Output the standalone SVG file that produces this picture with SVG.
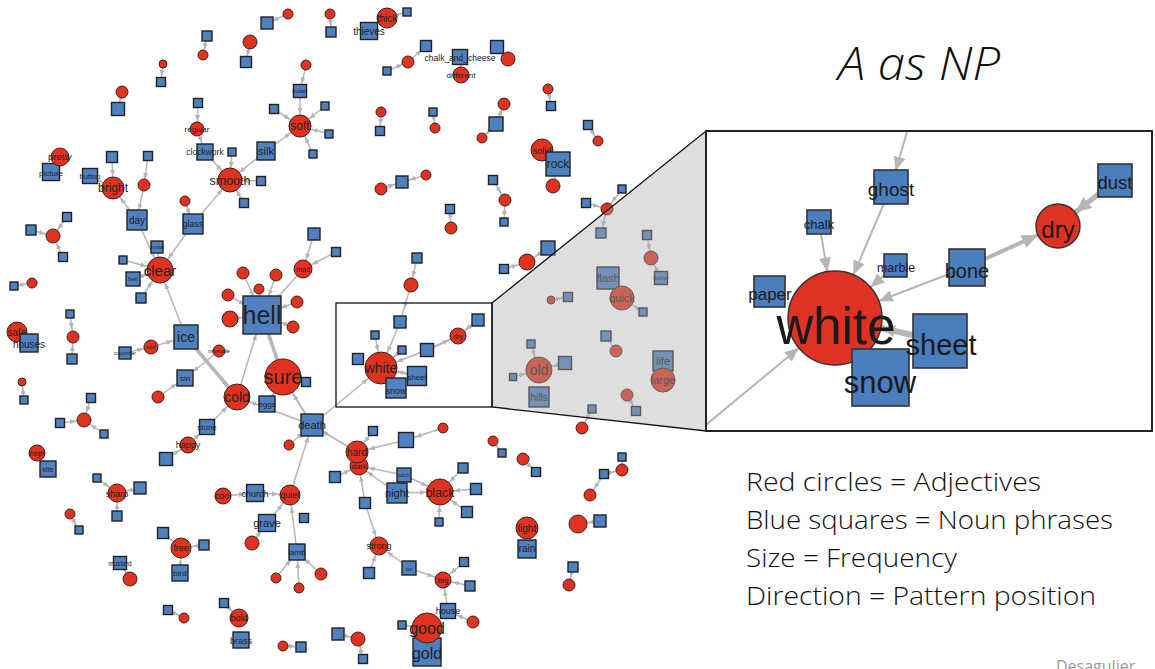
<svg xmlns="http://www.w3.org/2000/svg" width="1155" height="669" viewBox="0 0 1155 669">
<style>
.e line{stroke:#b7b7b7;stroke-width:1.5;fill:none}
.a{fill:#e1321f;stroke:#3b2420;stroke-width:1}
.n{fill:#4f80bf;stroke:#222;stroke-width:1.4}
.t{font-family:"Liberation Sans",Arial,sans-serif;fill:#222;text-anchor:middle}
.ia{fill:#df3222;stroke:#333;stroke-width:1.4}
.in{fill:#4a7ebc;stroke:#333;stroke-width:1.6}
.it{font-family:"Liberation Sans",Arial,sans-serif;fill:#1a1a1a;text-anchor:middle}
.ie line{stroke:#b5b5b5;fill:none}
.lg{font-family:"Open Sans","Liberation Sans",sans-serif;font-weight:300;fill:#111;font-size:26px}
</style>
<defs>
<marker id="m6" viewBox="0 0 6 5" refX="12" refY="2.5" markerWidth="6" markerHeight="5" orient="auto" markerUnits="userSpaceOnUse"><path d="M0,0L6,2.5L0,5z" fill="#b5b5b5"/></marker>
<marker id="m8" viewBox="0 0 6 5" refX="14" refY="2.5" markerWidth="6" markerHeight="5" orient="auto" markerUnits="userSpaceOnUse"><path d="M0,0L6,2.5L0,5z" fill="#b5b5b5"/></marker>
<marker id="m10" viewBox="0 0 6 5" refX="16" refY="2.5" markerWidth="6" markerHeight="5" orient="auto" markerUnits="userSpaceOnUse"><path d="M0,0L6,2.5L0,5z" fill="#b5b5b5"/></marker>
<marker id="m12" viewBox="0 0 6 5" refX="18" refY="2.5" markerWidth="6" markerHeight="5" orient="auto" markerUnits="userSpaceOnUse"><path d="M0,0L6,2.5L0,5z" fill="#b5b5b5"/></marker>
<marker id="m14" viewBox="0 0 6 5" refX="20" refY="2.5" markerWidth="6" markerHeight="5" orient="auto" markerUnits="userSpaceOnUse"><path d="M0,0L6,2.5L0,5z" fill="#b5b5b5"/></marker>
<marker id="m17" viewBox="0 0 6 5" refX="23" refY="2.5" markerWidth="6" markerHeight="5" orient="auto" markerUnits="userSpaceOnUse"><path d="M0,0L6,2.5L0,5z" fill="#b5b5b5"/></marker>
<marker id="m20" viewBox="0 0 6 5" refX="26" refY="2.5" markerWidth="6" markerHeight="5" orient="auto" markerUnits="userSpaceOnUse"><path d="M0,0L6,2.5L0,5z" fill="#b5b5b5"/></marker>
<marker id="i17" viewBox="0 0 14 12" refX="31" refY="6" markerWidth="14" markerHeight="12" orient="auto" markerUnits="userSpaceOnUse"><path d="M0,0L14,6L0,12z" fill="#b5b5b5"/></marker>
<marker id="i22" viewBox="0 0 16 14" refX="38" refY="7" markerWidth="16" markerHeight="14" orient="auto" markerUnits="userSpaceOnUse"><path d="M0,0L16,7L0,14z" fill="#b5b5b5"/></marker>
<marker id="i47" viewBox="0 0 14 12" refX="61" refY="6" markerWidth="14" markerHeight="12" orient="auto" markerUnits="userSpaceOnUse"><path d="M0,0L14,6L0,12z" fill="#b5b5b5"/></marker>
<clipPath id="insetClip"><rect x="706" y="131" width="446" height="300"/></clipPath>
</defs>
<rect width="1155" height="669" fill="#fff"/>

<!-- network connectors -->
<g id="edges" class="e">
<line x1="207" y1="36" x2="203" y2="55" marker-end="url(#m6)"/>
<line x1="163" y1="64" x2="161" y2="82" marker-end="url(#m6)"/>
<line x1="122" y1="92" x2="118" y2="109" marker-end="url(#m8)"/>
<line x1="198" y1="103" x2="197" y2="129" marker-end="url(#m8)"/>
<line x1="197" y1="129" x2="205" y2="152" marker-end="url(#m10)"/>
<line x1="205" y1="152" x2="230" y2="180" marker-end="url(#m12)"/>
<line x1="232" y1="152" x2="230" y2="180" marker-end="url(#m12)"/>
<line x1="250" y1="42" x2="246" y2="62" marker-end="url(#m6)"/>
<line x1="288" y1="14" x2="267" y2="23" marker-end="url(#m6)"/>
<line x1="330" y1="14" x2="331" y2="32" marker-end="url(#m6)"/>
<line x1="387" y1="18" x2="407" y2="12" marker-end="url(#m6)"/>
<line x1="408" y1="62" x2="426" y2="46" marker-end="url(#m6)"/>
<line x1="387" y1="71" x2="408" y2="62" marker-end="url(#m6)"/>
<line x1="460" y1="57" x2="461" y2="75" marker-end="url(#m8)"/>
<line x1="497" y1="47" x2="508" y2="59" marker-end="url(#m6)"/>
<line x1="306" y1="65" x2="300" y2="91" marker-end="url(#m8)"/>
<line x1="300" y1="91" x2="300" y2="126" marker-end="url(#m12)"/>
<line x1="274" y1="109" x2="300" y2="126" marker-end="url(#m12)"/>
<line x1="325" y1="106" x2="300" y2="126" marker-end="url(#m12)"/>
<line x1="329" y1="134" x2="300" y2="126" marker-end="url(#m12)"/>
<line x1="313" y1="154" x2="300" y2="126" marker-end="url(#m12)"/>
<line x1="266" y1="151" x2="300" y2="126" marker-end="url(#m12)"/>
<line x1="266" y1="151" x2="230" y2="180" marker-end="url(#m12)"/>
<line x1="381" y1="112" x2="380" y2="131" marker-end="url(#m6)"/>
<line x1="433" y1="112" x2="435" y2="128" marker-end="url(#m6)"/>
<line x1="496" y1="124" x2="504" y2="104" marker-end="url(#m6)"/>
<line x1="496" y1="124" x2="482" y2="138" marker-end="url(#m6)"/>
<line x1="548" y1="89" x2="551" y2="106" marker-end="url(#m6)"/>
<line x1="588" y1="125" x2="598" y2="141" marker-end="url(#m6)"/>
<line x1="553" y1="186" x2="558" y2="164" marker-end="url(#m14)"/>
<line x1="112" y1="157" x2="113" y2="188" marker-end="url(#m12)"/>
<line x1="148" y1="156" x2="144" y2="185" marker-end="url(#m6)"/>
<line x1="90" y1="176" x2="113" y2="188" marker-end="url(#m12)"/>
<line x1="144" y1="185" x2="137" y2="220" marker-end="url(#m10)"/>
<line x1="137" y1="220" x2="113" y2="188" marker-end="url(#m12)"/>
<line x1="137" y1="220" x2="160" y2="270" marker-end="url(#m14)"/>
<line x1="185" y1="201" x2="193" y2="224" marker-end="url(#m10)"/>
<line x1="193" y1="224" x2="230" y2="180" marker-end="url(#m12)"/>
<line x1="193" y1="224" x2="160" y2="270" marker-end="url(#m14)"/>
<line x1="244" y1="203" x2="230" y2="180" marker-end="url(#m12)"/>
<line x1="261" y1="181" x2="230" y2="180" marker-end="url(#m12)"/>
<line x1="157" y1="247" x2="160" y2="270" marker-end="url(#m14)"/>
<line x1="123" y1="260" x2="160" y2="270" marker-end="url(#m14)"/>
<line x1="133" y1="279" x2="160" y2="270" marker-end="url(#m14)"/>
<line x1="141" y1="298" x2="160" y2="270" marker-end="url(#m14)"/>
<line x1="186" y1="337" x2="160" y2="270" marker-end="url(#m14)"/>
<line x1="67" y1="217" x2="53" y2="236" marker-end="url(#m8)"/>
<line x1="31" y1="230" x2="53" y2="236" marker-end="url(#m8)"/>
<line x1="63" y1="257" x2="53" y2="236" marker-end="url(#m8)"/>
<line x1="14" y1="286" x2="32" y2="283" marker-end="url(#m6)"/>
<line x1="70" y1="314" x2="73" y2="337" marker-end="url(#m8)"/>
<line x1="72" y1="359" x2="73" y2="337" marker-end="url(#m8)"/>
<line x1="24" y1="400" x2="22" y2="382" marker-end="url(#m6)"/>
<line x1="91" y1="398" x2="84" y2="420" marker-end="url(#m8)"/>
<line x1="60" y1="423" x2="84" y2="420" marker-end="url(#m8)"/>
<line x1="104" y1="434" x2="84" y2="420" marker-end="url(#m8)"/>
<line x1="97" y1="478" x2="117" y2="493" marker-end="url(#m10)"/>
<line x1="140" y1="488" x2="117" y2="493" marker-end="url(#m10)"/>
<line x1="117" y1="516" x2="117" y2="493" marker-end="url(#m10)"/>
<line x1="70" y1="514" x2="79" y2="530" marker-end="url(#m6)"/>
<line x1="163" y1="533" x2="181" y2="548" marker-end="url(#m12)"/>
<line x1="204" y1="545" x2="181" y2="548" marker-end="url(#m12)"/>
<line x1="180" y1="573" x2="181" y2="548" marker-end="url(#m12)"/>
<line x1="120" y1="563" x2="130" y2="579" marker-end="url(#m8)"/>
<line x1="168" y1="610" x2="184" y2="618" marker-end="url(#m6)"/>
<line x1="224" y1="603" x2="239" y2="618" marker-end="url(#m10)"/>
<line x1="314" y1="234" x2="303" y2="269" marker-end="url(#m10)"/>
<line x1="336" y1="252" x2="303" y2="269" marker-end="url(#m10)"/>
<line x1="303" y1="269" x2="262" y2="315" marker-end="url(#m20)"/>
<line x1="276" y1="275" x2="262" y2="315" marker-end="url(#m20)"/>
<line x1="259" y1="289" x2="262" y2="315" marker-end="url(#m20)"/>
<line x1="243" y1="273" x2="262" y2="315" marker-end="url(#m20)"/>
<line x1="228" y1="295" x2="262" y2="315" marker-end="url(#m20)"/>
<line x1="230" y1="319" x2="262" y2="315" marker-end="url(#m20)"/>
<line x1="297" y1="302" x2="262" y2="315" marker-end="url(#m20)"/>
<line x1="293" y1="327" x2="262" y2="315" marker-end="url(#m20)"/>
<line x1="283" y1="377" x2="262" y2="315" marker-end="url(#m20)" style="stroke-width:3.5"/>
<line x1="237" y1="397" x2="262" y2="315" marker-end="url(#m20)"/>
<line x1="125" y1="353" x2="151" y2="347" marker-end="url(#m8)"/>
<line x1="151" y1="347" x2="186" y2="337" marker-end="url(#m14)"/>
<line x1="219" y1="351" x2="185" y2="378" marker-end="url(#m10)"/>
<line x1="158" y1="397" x2="185" y2="378" marker-end="url(#m10)"/>
<line x1="186" y1="337" x2="237" y2="397" marker-end="url(#m14)" style="stroke-width:3.5"/>
<line x1="267" y1="404" x2="283" y2="377" marker-end="url(#m20)"/>
<line x1="306" y1="382" x2="283" y2="377" marker-end="url(#m20)"/>
<line x1="207" y1="427" x2="237" y2="397" marker-end="url(#m14)"/>
<line x1="188" y1="445" x2="207" y2="427" marker-end="url(#m10)"/>
<line x1="166" y1="459" x2="188" y2="445" marker-end="url(#m10)"/>
<line x1="312" y1="425" x2="283" y2="377" marker-end="url(#m20)" style="stroke-width:2"/>
<line x1="312" y1="425" x2="237" y2="397" marker-end="url(#m14)"/>
<line x1="289" y1="445" x2="312" y2="425" marker-end="url(#m12)"/>
<line x1="357" y1="452" x2="312" y2="425" marker-end="url(#m12)" style="stroke-width:2"/>
<line x1="290" y1="495" x2="312" y2="425" marker-end="url(#m12)"/>
<line x1="312" y1="425" x2="381" y2="368" marker-end="url(#m17)"/>
<line x1="375" y1="335" x2="381" y2="368" marker-end="url(#m17)"/>
<line x1="400" y1="322" x2="381" y2="368" marker-end="url(#m17)"/>
<line x1="402" y1="350" x2="381" y2="368" marker-end="url(#m17)"/>
<line x1="427" y1="350" x2="381" y2="368" marker-end="url(#m17)"/>
<line x1="427" y1="350" x2="458" y2="336" marker-end="url(#m10)" style="stroke-width:2"/>
<line x1="478" y1="320" x2="458" y2="336" marker-end="url(#m10)" style="stroke-width:2"/>
<line x1="417" y1="376" x2="381" y2="368" marker-end="url(#m17)" style="stroke-width:2.5"/>
<line x1="411" y1="285" x2="400" y2="322" marker-end="url(#m14)"/>
<line x1="417" y1="258" x2="411" y2="285" marker-end="url(#m8)"/>
<line x1="426" y1="175" x2="402" y2="182" marker-end="url(#m8)"/>
<line x1="381" y1="189" x2="402" y2="182" marker-end="url(#m8)"/>
<line x1="450" y1="209" x2="451" y2="228" marker-end="url(#m8)"/>
<line x1="406" y1="440" x2="357" y2="452" marker-end="url(#m12)"/>
<line x1="443" y1="428" x2="406" y2="440" marker-end="url(#m10)"/>
<line x1="373" y1="431" x2="357" y2="452" marker-end="url(#m12)"/>
<line x1="335" y1="477" x2="359" y2="466" marker-end="url(#m10)"/>
<line x1="404" y1="475" x2="359" y2="466" marker-end="url(#m10)"/>
<line x1="404" y1="475" x2="440" y2="492" marker-end="url(#m14)"/>
<line x1="397" y1="493" x2="359" y2="466" marker-end="url(#m10)"/>
<line x1="397" y1="493" x2="440" y2="492" marker-end="url(#m14)"/>
<line x1="463" y1="468" x2="440" y2="492" marker-end="url(#m14)"/>
<line x1="476" y1="489" x2="440" y2="492" marker-end="url(#m14)"/>
<line x1="467" y1="512" x2="440" y2="492" marker-end="url(#m14)"/>
<line x1="439" y1="522" x2="440" y2="492" marker-end="url(#m14)"/>
<line x1="365" y1="503" x2="359" y2="466" marker-end="url(#m10)"/>
<line x1="365" y1="503" x2="379" y2="546" marker-end="url(#m10)"/>
<line x1="369" y1="573" x2="379" y2="546" marker-end="url(#m10)"/>
<line x1="409" y1="568" x2="379" y2="546" marker-end="url(#m10)"/>
<line x1="409" y1="568" x2="443" y2="580" marker-end="url(#m10)"/>
<line x1="464" y1="562" x2="443" y2="580" marker-end="url(#m10)"/>
<line x1="470" y1="586" x2="443" y2="580" marker-end="url(#m10)"/>
<line x1="448" y1="611" x2="443" y2="580" marker-end="url(#m10)"/>
<line x1="473" y1="622" x2="448" y2="611" marker-end="url(#m10)"/>
<line x1="402" y1="625" x2="427" y2="628" marker-end="url(#m17)"/>
<line x1="255" y1="493" x2="290" y2="495" marker-end="url(#m12)"/>
<line x1="223" y1="496" x2="255" y2="493" marker-end="url(#m10)"/>
<line x1="267" y1="523" x2="290" y2="495" marker-end="url(#m12)"/>
<line x1="252" y1="543" x2="267" y2="523" marker-end="url(#m10)"/>
<line x1="297" y1="552" x2="290" y2="495" marker-end="url(#m12)"/>
<line x1="276" y1="578" x2="297" y2="552" marker-end="url(#m10)"/>
<line x1="299" y1="588" x2="297" y2="552" marker-end="url(#m10)"/>
<line x1="321" y1="574" x2="297" y2="552" marker-end="url(#m10)"/>
<line x1="338" y1="634" x2="358" y2="639" marker-end="url(#m8)"/>
<line x1="363" y1="659" x2="358" y2="639" marker-end="url(#m8)"/>
<line x1="283" y1="646" x2="301" y2="647" marker-end="url(#m6)"/>
<line x1="493" y1="180" x2="505" y2="200" marker-end="url(#m8)"/>
<line x1="504" y1="222" x2="505" y2="200" marker-end="url(#m8)"/>
<line x1="586" y1="203" x2="607" y2="209" marker-end="url(#m8)"/>
<line x1="622" y1="189" x2="607" y2="209" marker-end="url(#m8)"/>
<line x1="607" y1="209" x2="601" y2="233" marker-end="url(#m6)"/>
<line x1="548" y1="248" x2="527" y2="262" marker-end="url(#m10)"/>
<line x1="504" y1="269" x2="527" y2="262" marker-end="url(#m10)"/>
<line x1="647" y1="235" x2="651" y2="258" marker-end="url(#m8)"/>
<line x1="661" y1="278" x2="651" y2="258" marker-end="url(#m8)"/>
<line x1="643" y1="312" x2="622" y2="298" marker-end="url(#m14)"/>
<line x1="551" y1="300" x2="568" y2="297" marker-end="url(#m6)"/>
<line x1="606" y1="336" x2="616" y2="351" marker-end="url(#m8)"/>
<line x1="531" y1="344" x2="539" y2="370" marker-end="url(#m14)"/>
<line x1="565" y1="363" x2="539" y2="370" marker-end="url(#m14)"/>
<line x1="513" y1="377" x2="539" y2="370" marker-end="url(#m14)"/>
<line x1="627" y1="395" x2="636" y2="411" marker-end="url(#m6)"/>
<line x1="592" y1="409" x2="582" y2="428" marker-end="url(#m8)"/>
<line x1="493" y1="441" x2="502" y2="453" marker-end="url(#m6)"/>
<line x1="523" y1="459" x2="536" y2="472" marker-end="url(#m6)"/>
<line x1="622" y1="457" x2="622" y2="470" marker-end="url(#m8)"/>
<line x1="604" y1="474" x2="622" y2="470" marker-end="url(#m8)"/>
<line x1="604" y1="474" x2="590" y2="495" marker-end="url(#m8)"/>
<line x1="600" y1="521" x2="578" y2="524" marker-end="url(#m10)"/>
<line x1="573" y1="567" x2="569" y2="585" marker-end="url(#m8)"/>
</g>

<!-- network nodes -->
<g id="nodes">
<g id="np-1"><rect class="n" x="202" y="31" width="10" height="10"/></g>
<g id="adj-1"><circle class="a" cx="203" cy="55" r="5"/></g>
<g id="adj-2"><circle class="a" cx="163" cy="64" r="4"/></g>
<g id="np-2"><rect class="n" x="156.5" y="77.5" width="9" height="9"/></g>
<g id="adj-3"><circle class="a" cx="122" cy="92" r="6"/></g>
<g id="np-3"><rect class="n" x="111.5" y="102.5" width="13" height="13"/></g>
<g id="np-4"><rect class="n" x="193.5" y="98.5" width="9" height="9"/></g>
<g id="adj-regular"><circle class="a" cx="197" cy="129" r="7"/><text class="t" x="197" y="132" font-size="8">regular</text></g>
<g id="np-clockwork"><rect class="n" x="197" y="144" width="16" height="16"/><text class="t" x="205" y="155" font-size="8.5">clockwork</text></g>
<g id="np-6"><rect class="n" x="228" y="148" width="8" height="8"/></g>
<g id="adj-5"><circle class="a" cx="250" cy="42" r="7"/></g>
<g id="np-7"><rect class="n" x="240.5" y="56.5" width="11" height="11"/></g>
<g id="np-8"><rect class="n" x="261" y="17" width="12" height="12"/></g>
<g id="adj-6"><circle class="a" cx="288" cy="14" r="5"/></g>
<g id="adj-7"><circle class="a" cx="330" cy="14" r="5"/></g>
<g id="np-9"><rect class="n" x="326" y="27" width="10" height="10"/></g>
<g id="np-thieves"><rect class="n" x="360.5" y="22.5" width="17" height="17"/><text class="t" x="369" y="35" font-size="10">thieves</text></g>
<g id="adj-thick"><circle class="a" cx="387" cy="18" r="10"/><text class="t" x="387" y="22" font-size="10">thick</text></g>
<g id="np-10"><rect class="n" x="403" y="8" width="8" height="8"/></g>
<g id="adj-9"><circle class="a" cx="408" cy="62" r="6"/></g>
<g id="np-12"><rect class="n" x="420.5" y="40.5" width="11" height="11"/></g>
<g id="np-13"><rect class="n" x="383" y="67" width="8" height="8"/></g>
<g id="np-chalk_and_cheese"><rect class="n" x="452.5" y="49.5" width="15" height="15"/><text class="t" x="460" y="61" font-size="8.5">chalk_and_cheese</text></g>
<g id="adj-different"><circle class="a" cx="461" cy="75" r="8"/><text class="t" x="461" y="78" font-size="8">different</text></g>
<g id="np-15"><rect class="n" x="490.5" y="40.5" width="13" height="13"/></g>
<g id="adj-11"><circle class="a" cx="508" cy="59" r="7"/></g>
<g id="adj-12"><circle class="a" cx="306" cy="65" r="5"/></g>
<g id="np-butter"><rect class="n" x="293.5" y="84.5" width="13" height="13"/><text class="t" x="300" y="93" font-size="6">butter</text></g>
<g id="np-17"><rect class="n" x="269.5" y="104.5" width="9" height="9"/></g>
<g id="np-18"><rect class="n" x="321" y="102" width="8" height="8"/></g>
<g id="np-19"><rect class="n" x="325" y="130" width="8" height="8"/></g>
<g id="np-20"><rect class="n" x="309" y="150" width="8" height="8"/></g>
<g id="adj-soft"><circle class="a" cx="300" cy="126" r="11"/><text class="t" x="300" y="130" font-size="12">soft</text></g>
<g id="np-silk"><rect class="n" x="257" y="142" width="18" height="18"/><text class="t" x="266" y="155" font-size="11">silk</text></g>
<g id="adj-14"><circle class="a" cx="381" cy="112" r="5"/></g>
<g id="np-22"><rect class="n" x="375.5" y="126.5" width="9" height="9"/></g>
<g id="np-23"><rect class="n" x="429" y="108" width="8" height="8"/></g>
<g id="adj-15"><circle class="a" cx="435" cy="128" r="5"/></g>
<g id="np-24"><rect class="n" x="489" y="117" width="14" height="14"/></g>
<g id="adj-16"><circle class="a" cx="504" cy="104" r="6"/></g>
<g id="adj-17"><circle class="a" cx="482" cy="138" r="5"/></g>
<g id="adj-18"><circle class="a" cx="548" cy="89" r="5"/></g>
<g id="np-25"><rect class="n" x="546.5" y="101.5" width="9" height="9"/></g>
<g id="np-26"><rect class="n" x="583.5" y="120.5" width="9" height="9"/></g>
<g id="adj-19"><circle class="a" cx="598" cy="141" r="5"/></g>
<g id="adj-solid"><circle class="a" cx="542" cy="150" r="11"/><text class="t" x="542" y="154" font-size="9">solid</text></g>
<g id="np-rock"><rect class="n" x="546" y="152" width="24" height="24"/><text class="t" x="558" y="168" font-size="12">rock</text></g>
<g id="adj-steady"><circle class="a" cx="553" cy="186" r="7"/></g>
<g id="np-picture"><rect class="n" x="42.5" y="163.5" width="17" height="17"/><text class="t" x="51" y="176" font-size="8">picture</text></g>
<g id="adj-pretty"><circle class="a" cx="60" cy="157" r="9"/><text class="t" x="60" y="160" font-size="9.5">pretty</text></g>
<g id="np-29"><rect class="n" x="106.5" y="151.5" width="11" height="11"/></g>
<g id="np-30"><rect class="n" x="143.5" y="151.5" width="9" height="9"/></g>
<g id="np-button"><rect class="n" x="82.5" y="168.5" width="15" height="15"/><text class="t" x="90" y="179" font-size="7.5">button</text></g>
<g id="adj-23"><circle class="a" cx="144" cy="185" r="6"/></g>
<g id="adj-bright"><circle class="a" cx="113" cy="188" r="11"/><text class="t" x="113" y="192" font-size="12">bright</text></g>
<g id="np-day"><rect class="n" x="127" y="210" width="20" height="20"/><text class="t" x="137" y="224" font-size="10">day</text></g>
<g id="adj-25"><circle class="a" cx="185" cy="201" r="5"/></g>
<g id="np-glass"><rect class="n" x="183" y="214" width="20" height="20"/><text class="t" x="193" y="227" font-size="9">glass</text></g>
<g id="np-34"><rect class="n" x="239.5" y="198.5" width="9" height="9"/></g>
<g id="np-35"><rect class="n" x="256.5" y="176.5" width="9" height="9"/></g>
<g id="adj-smooth"><circle class="a" cx="230" cy="180" r="12"/><text class="t" x="230" y="185" font-size="12.5">smooth</text></g>
<g id="np-crystal"><rect class="n" x="151" y="241" width="12" height="12"/><text class="t" x="157" y="249" font-size="5">crystal</text></g>
<g id="np-37"><rect class="n" x="119" y="256" width="8" height="8"/></g>
<g id="np-bell"><rect class="n" x="126" y="272" width="14" height="14"/><text class="t" x="133" y="281" font-size="6">bell</text></g>
<g id="np-39"><rect class="n" x="136" y="293" width="10" height="10"/></g>
<g id="adj-clear"><circle class="a" cx="160" cy="270" r="13"/><text class="t" x="160" y="276" font-size="15">clear</text></g>
<g id="np-40"><rect class="n" x="62.5" y="212.5" width="9" height="9"/></g>
<g id="np-41"><rect class="n" x="26" y="225" width="10" height="10"/></g>
<g id="np-42"><rect class="n" x="58.5" y="252.5" width="9" height="9"/></g>
<g id="adj-28"><circle class="a" cx="53" cy="236" r="7"/></g>
<g id="np-43"><rect class="n" x="10" y="282" width="8" height="8"/></g>
<g id="adj-29"><circle class="a" cx="32" cy="283" r="5"/></g>
<g id="np-44"><rect class="n" x="66" y="310" width="8" height="8"/></g>
<g id="np-45"><rect class="n" x="67" y="354" width="10" height="10"/></g>
<g id="adj-30"><circle class="a" cx="73" cy="337" r="6"/></g>
<g id="adj-safe"><circle class="a" cx="17" cy="332" r="10"/><text class="t" x="17" y="336" font-size="10">safe</text></g>
<g id="np-houses"><rect class="n" x="20" y="334" width="18" height="18"/><text class="t" x="29" y="348" font-size="10">houses</text></g>
<g id="adj-32"><circle class="a" cx="22" cy="382" r="4"/></g>
<g id="np-47"><rect class="n" x="20" y="396" width="8" height="8"/></g>
<g id="np-48"><rect class="n" x="86.5" y="393.5" width="9" height="9"/></g>
<g id="np-49"><rect class="n" x="55.5" y="418.5" width="9" height="9"/></g>
<g id="np-50"><rect class="n" x="100" y="430" width="8" height="8"/></g>
<g id="adj-33"><circle class="a" cx="84" cy="420" r="7"/></g>
<g id="adj-high"><circle class="a" cx="37" cy="453" r="8"/><text class="t" x="37" y="456" font-size="8">high</text></g>
<g id="np-kite"><rect class="n" x="40" y="461" width="16" height="16"/><text class="t" x="48" y="472" font-size="7">kite</text></g>
<g id="np-52"><rect class="n" x="93" y="474" width="8" height="8"/></g>
<g id="np-53"><rect class="n" x="134" y="482" width="12" height="12"/></g>
<g id="np-54"><rect class="n" x="112" y="511" width="10" height="10"/></g>
<g id="adj-sharp"><circle class="a" cx="117" cy="493" r="9"/><text class="t" x="117" y="497" font-size="9">sharp</text></g>
<g id="adj-36"><circle class="a" cx="70" cy="514" r="5"/></g>
<g id="np-55"><rect class="n" x="75" y="526" width="8" height="8"/></g>
<g id="np-56"><rect class="n" x="157.5" y="527.5" width="11" height="11"/></g>
<g id="np-57"><rect class="n" x="199" y="540" width="10" height="10"/></g>
<g id="np-bird"><rect class="n" x="172" y="565" width="16" height="16"/><text class="t" x="180" y="576" font-size="8">bird</text></g>
<g id="adj-free"><circle class="a" cx="181" cy="548" r="10"/><text class="t" x="181" y="551" font-size="9">free</text></g>
<g id="np-mustard"><rect class="n" x="113.5" y="556.5" width="13" height="13"/><text class="t" x="120" y="566" font-size="6.5">mustard</text></g>
<g id="adj-keen"><circle class="a" cx="130" cy="579" r="7"/></g>
<g id="np-60"><rect class="n" x="163.5" y="605.5" width="9" height="9"/></g>
<g id="adj-39"><circle class="a" cx="184" cy="618" r="5"/></g>
<g id="np-61"><rect class="n" x="219.5" y="598.5" width="9" height="9"/></g>
<g id="np-brass"><rect class="n" x="233" y="632" width="16" height="16"/><text class="t" x="241" y="644" font-size="9">brass</text></g>
<g id="adj-bold"><circle class="a" cx="239" cy="618" r="9"/><text class="t" x="239" y="621" font-size="9">bold</text></g>
<g id="np-hell"><rect class="n" x="243" y="296" width="38" height="38"/><text class="t" x="262" y="324" font-size="25">hell</text></g>
<g id="np-64"><rect class="n" x="308" y="228" width="12" height="12"/></g>
<g id="np-65"><rect class="n" x="331.5" y="247.5" width="9" height="9"/></g>
<g id="adj-mad"><circle class="a" cx="303" cy="269" r="9"/><text class="t" x="303" y="272" font-size="7">mad</text></g>
<g id="adj-42"><circle class="a" cx="276" cy="275" r="6"/></g>
<g id="adj-43"><circle class="a" cx="259" cy="289" r="5"/></g>
<g id="adj-44"><circle class="a" cx="243" cy="273" r="6"/></g>
<g id="adj-45"><circle class="a" cx="228" cy="295" r="6"/></g>
<g id="adj-46"><circle class="a" cx="230" cy="319" r="8"/></g>
<g id="adj-47"><circle class="a" cx="297" cy="302" r="6"/></g>
<g id="adj-48"><circle class="a" cx="293" cy="327" r="6"/></g>
<g id="np-ice"><rect class="n" x="174" y="325" width="24" height="24"/><text class="t" x="186" y="342" font-size="14">ice</text></g>
<g id="np-cucumber"><rect class="n" x="119" y="347" width="12" height="12"/><text class="t" x="125" y="355" font-size="5">cucumber</text></g>
<g id="adj-cool"><circle class="a" cx="151" cy="347" r="7"/><text class="t" x="151" y="349" font-size="5">cool</text></g>
<g id="adj-miserable"><circle class="a" cx="219" cy="351" r="6"/><text class="t" x="219" y="353" font-size="5">miserable</text></g>
<g id="np-sin"><rect class="n" x="177" y="370" width="16" height="16"/><text class="t" x="185" y="381" font-size="8">sin</text></g>
<g id="adj-ugly"><circle class="a" cx="158" cy="397" r="6"/></g>
<g id="adj-cold"><circle class="a" cx="237" cy="397" r="13"/><text class="t" x="237" y="402" font-size="14">cold</text></g>
<g id="np-eggs"><rect class="n" x="259" y="396" width="16" height="16"/><text class="t" x="267" y="407" font-size="8">eggs</text></g>
<g id="adj-sure"><circle class="a" cx="283" cy="377" r="18"/><text class="t" x="283" y="384" font-size="20">sure</text></g>
<g id="np-70"><rect class="n" x="301.5" y="377.5" width="9" height="9"/></g>
<g id="np-stone"><rect class="n" x="199.5" y="419.5" width="15" height="15"/><text class="t" x="207" y="430" font-size="8">stone</text></g>
<g id="adj-happy"><circle class="a" cx="188" cy="445" r="8"/><text class="t" x="188" y="448" font-size="9">happy</text></g>
<g id="np-72"><rect class="n" x="159.5" y="452.5" width="13" height="13"/></g>
<g id="np-death"><rect class="n" x="301" y="414" width="22" height="22"/><text class="t" x="312" y="429" font-size="11">death</text></g>
<g id="adj-55"><circle class="a" cx="289" cy="445" r="5"/></g>
<g id="np-paper"><rect class="n" x="352.5" y="353.5" width="11" height="11"/></g>
<g id="np-chalk"><rect class="n" x="371" y="331" width="8" height="8"/></g>
<g id="np-ghost"><rect class="n" x="394" y="316" width="12" height="12"/></g>
<g id="np-marble"><rect class="n" x="398" y="346" width="8" height="8"/></g>
<g id="np-bone"><rect class="n" x="420.5" y="343.5" width="13" height="13"/></g>
<g id="adj-dry"><circle class="a" cx="458" cy="336" r="8"/><text class="t" x="458" y="339" font-size="7">dry</text></g>
<g id="np-dust"><rect class="n" x="472" y="314" width="12" height="12"/></g>
<g id="adj-white"><circle class="a" cx="381" cy="368" r="16"/></g>
<g id="np-sheet"><rect class="n" x="407.5" y="366.5" width="19" height="19"/><text class="t" x="417" y="380" font-size="8">sheet</text></g>
<g id="np-snow"><rect class="n" x="386" y="378" width="20" height="20"/><text class="t" x="396" y="394" font-size="9">snow</text></g>
<text class="t" x="381" y="373" font-size="14">white</text>
<g id="adj-58"><circle class="a" cx="411" cy="285" r="7"/></g>
<g id="np-82"><rect class="n" x="412" y="253" width="10" height="10"/></g>
<g id="np-83"><rect class="n" x="396" y="176" width="12" height="12"/></g>
<g id="adj-59"><circle class="a" cx="426" cy="175" r="5"/></g>
<g id="adj-60"><circle class="a" cx="381" cy="189" r="6"/></g>
<g id="np-84"><rect class="n" x="445.5" y="204.5" width="9" height="9"/></g>
<g id="adj-61"><circle class="a" cx="451" cy="228" r="6"/></g>
<g id="np-nails"><rect class="n" x="398.5" y="432.5" width="15" height="15"/></g>
<g id="adj-64"><circle class="a" cx="443" cy="428" r="5"/></g>
<g id="np-86"><rect class="n" x="368.5" y="426.5" width="9" height="9"/></g>
<g id="np-87"><rect class="n" x="329.5" y="471.5" width="11" height="11"/></g>
<g id="adj-dark"><circle class="a" cx="359" cy="466" r="9"/><text class="t" x="359" y="469" font-size="8">dark</text></g>
<g id="adj-hard"><circle class="a" cx="357" cy="452" r="11"/><text class="t" x="357" y="456" font-size="10">hard</text></g>
<g id="np-pitch"><rect class="n" x="397" y="468" width="14" height="14"/><text class="t" x="404" y="477" font-size="5">pitch</text></g>
<g id="np-night"><rect class="n" x="387" y="483" width="20" height="20"/><text class="t" x="397" y="497" font-size="11">night</text></g>
<g id="np-90"><rect class="n" x="458" y="463" width="10" height="10"/></g>
<g id="np-91"><rect class="n" x="470.5" y="483.5" width="11" height="11"/></g>
<g id="np-92"><rect class="n" x="461.5" y="506.5" width="11" height="11"/></g>
<g id="np-93"><rect class="n" x="435" y="518" width="8" height="8"/></g>
<g id="adj-black"><circle class="a" cx="440" cy="492" r="13"/><text class="t" x="440" y="497" font-size="12.5">black</text></g>
<g id="np-steel"><rect class="n" x="359.5" y="497.5" width="11" height="11"/></g>
<g id="np-95"><rect class="n" x="363.5" y="567.5" width="11" height="11"/></g>
<g id="adj-strong"><circle class="a" cx="379" cy="546" r="9"/><text class="t" x="379" y="549" font-size="9">strong</text></g>
<g id="np-ox"><rect class="n" x="402" y="561" width="14" height="14"/><text class="t" x="409" y="571" font-size="6">ox</text></g>
<g id="np-97"><rect class="n" x="459.5" y="557.5" width="9" height="9"/></g>
<g id="np-98"><rect class="n" x="465" y="581" width="10" height="10"/></g>
<g id="adj-big"><circle class="a" cx="443" cy="580" r="8"/><text class="t" x="443" y="583" font-size="8">big</text></g>
<g id="np-house"><rect class="n" x="440.5" y="603.5" width="15" height="15"/><text class="t" x="448" y="614" font-size="9">house</text></g>
<g id="adj-68"><circle class="a" cx="473" cy="622" r="6"/></g>
<g id="np-100"><rect class="n" x="398" y="621" width="8" height="8"/></g>
<g id="np-gold"><rect class="n" x="413" y="638" width="28" height="28"/><text class="t" x="427" y="659" font-size="16">gold</text></g>
<g id="adj-good"><circle class="a" cx="427" cy="628" r="15"/><text class="t" x="427" y="634" font-size="16">good</text></g>
<g id="np-church"><rect class="n" x="246.5" y="484.5" width="17" height="17"/><text class="t" x="255" y="497" font-size="9">church</text></g>
<g id="adj-cool2"><circle class="a" cx="223" cy="496" r="8"/><text class="t" x="223" y="499" font-size="9">cool</text></g>
<g id="adj-quiet"><circle class="a" cx="290" cy="495" r="10"/><text class="t" x="290" y="498" font-size="9">quiet</text></g>
<g id="np-grave"><rect class="n" x="258.5" y="514.5" width="17" height="17"/><text class="t" x="267" y="527" font-size="11">grave</text></g>
<g id="adj-72"><circle class="a" cx="252" cy="543" r="7"/></g>
<g id="np-104"><rect class="n" x="299.5" y="513.5" width="9" height="9"/></g>
<g id="np-lamb"><rect class="n" x="289" y="544" width="16" height="16"/><text class="t" x="297" y="555" font-size="8">lamb</text></g>
<g id="adj-73"><circle class="a" cx="276" cy="578" r="5"/></g>
<g id="adj-74"><circle class="a" cx="299" cy="588" r="5"/></g>
<g id="adj-75"><circle class="a" cx="321" cy="574" r="6"/></g>
<g id="np-106"><rect class="n" x="332" y="628" width="12" height="12"/></g>
<g id="adj-76"><circle class="a" cx="358" cy="639" r="7"/></g>
<g id="np-107"><rect class="n" x="358.5" y="654.5" width="9" height="9"/></g>
<g id="adj-77"><circle class="a" cx="283" cy="646" r="5"/></g>
<g id="np-108"><rect class="n" x="296" y="642" width="10" height="10"/></g>
<g id="np-109"><rect class="n" x="488.5" y="175.5" width="9" height="9"/></g>
<g id="adj-78"><circle class="a" cx="505" cy="200" r="6"/></g>
<g id="np-110"><rect class="n" x="500" y="218" width="8" height="8"/></g>
<g id="np-111"><rect class="n" x="581.5" y="198.5" width="9" height="9"/></g>
<g id="np-112"><rect class="n" x="618" y="185" width="8" height="8"/></g>
<g id="adj-79"><circle class="a" cx="607" cy="209" r="6"/></g>
<g id="np-113"><rect class="n" x="596" y="228" width="10" height="10"/></g>
<g id="np-114"><rect class="n" x="541" y="241" width="14" height="14"/></g>
<g id="adj-80"><circle class="a" cx="527" cy="262" r="8"/></g>
<g id="np-115"><rect class="n" x="499.5" y="264.5" width="9" height="9"/></g>
<g id="np-116"><rect class="n" x="642.5" y="230.5" width="9" height="9"/></g>
<g id="adj-81"><circle class="a" cx="651" cy="258" r="7"/></g>
<g id="np-feather"><rect class="n" x="654.5" y="271.5" width="13" height="13"/><text class="t" x="661" y="280" font-size="5">feather</text></g>
<g id="np-flash"><rect class="n" x="597" y="267" width="22" height="22"/><text class="t" x="608" y="282" font-size="11">flash</text></g>
<g id="adj-quick"><circle class="a" cx="622" cy="298" r="12"/><text class="t" x="622" y="302" font-size="11">quick</text></g>
<g id="np-119"><rect class="n" x="639" y="308" width="8" height="8"/></g>
<g id="adj-83"><circle class="a" cx="551" cy="300" r="4"/></g>
<g id="np-120"><rect class="n" x="563.5" y="292.5" width="9" height="9"/></g>
<g id="np-121"><rect class="n" x="601" y="331" width="10" height="10"/></g>
<g id="adj-84"><circle class="a" cx="616" cy="351" r="6"/></g>
<g id="np-life"><rect class="n" x="653" y="351" width="20" height="20"/><text class="t" x="663" y="365" font-size="11">life</text></g>
<g id="adj-large"><circle class="a" cx="663" cy="380" r="12"/><text class="t" x="663" y="384" font-size="11">large</text></g>
<g id="np-123"><rect class="n" x="527" y="340" width="8" height="8"/></g>
<g id="np-124"><rect class="n" x="558.5" y="356.5" width="13" height="13"/></g>
<g id="np-125"><rect class="n" x="509.5" y="373.5" width="7" height="7"/></g>
<g id="adj-old"><circle class="a" cx="539" cy="370" r="13"/><text class="t" x="539" y="375" font-size="14">old</text></g>
<g id="np-hills"><rect class="n" x="529" y="387" width="20" height="20"/><text class="t" x="539" y="401" font-size="10">hills</text></g>
<g id="adj-87"><circle class="a" cx="627" cy="395" r="6"/></g>
<g id="np-127"><rect class="n" x="631.5" y="406.5" width="9" height="9"/></g>
<g id="np-128"><rect class="n" x="588" y="405" width="8" height="8"/></g>
<g id="adj-88"><circle class="a" cx="582" cy="428" r="6"/></g>
<g id="adj-89"><circle class="a" cx="493" cy="441" r="5"/></g>
<g id="np-129"><rect class="n" x="498" y="449" width="8" height="8"/></g>
<g id="adj-90"><circle class="a" cx="523" cy="459" r="6"/></g>
<g id="np-130"><rect class="n" x="531.5" y="467.5" width="9" height="9"/></g>
<g id="np-131"><rect class="n" x="618" y="453" width="8" height="8"/></g>
<g id="adj-91"><circle class="a" cx="622" cy="470" r="6"/></g>
<g id="np-132"><rect class="n" x="599.5" y="469.5" width="9" height="9"/></g>
<g id="adj-92"><circle class="a" cx="590" cy="495" r="6"/></g>
<g id="adj-light"><circle class="a" cx="527" cy="528" r="11"/><text class="t" x="527" y="532" font-size="10">light</text></g>
<g id="np-rain"><rect class="n" x="518" y="540" width="18" height="18"/><text class="t" x="527" y="552" font-size="10">rain</text></g>
<g id="adj-94"><circle class="a" cx="578" cy="524" r="9"/></g>
<g id="np-134"><rect class="n" x="594" y="515" width="12" height="12"/></g>
<g id="np-135"><rect class="n" x="568" y="562" width="10" height="10"/></g>
<g id="adj-95"><circle class="a" cx="569" cy="585" r="6"/></g>
</g>

<!-- zoom wedge and selection box -->
<polygon points="492,303 706,131 706,431 492,407" fill="#acacac" fill-opacity="0.4" stroke="#111" stroke-width="1.3"/>
<rect x="336" y="303" width="156" height="104" fill="none" stroke="#111" stroke-width="1.3"/>

<!-- magnified view -->
<g id="inset">
<rect x="706" y="131" width="446" height="300" fill="#fff"/>
<g clip-path="url(#insetClip)">
<g id="inset-edges" class="ie">
<line x1="922" y1="80" x2="891" y2="187" stroke-width="2" marker-end="url(#i17)"/>
<line x1="891" y1="187" x2="835" y2="318" stroke-width="2" marker-end="url(#i47)"/>
<line x1="819" y1="222" x2="835" y2="318" stroke-width="2" marker-end="url(#i47)"/>
<line x1="896" y1="265" x2="835" y2="318" stroke-width="2" marker-end="url(#i47)"/>
<line x1="967" y1="267" x2="835" y2="318" stroke-width="2" marker-end="url(#i47)"/>
<line x1="967" y1="267" x2="1058" y2="226" stroke-width="4" marker-end="url(#i22)"/>
<line x1="1115" y1="181" x2="1058" y2="226" stroke-width="5" marker-end="url(#i22)"/>
<line x1="940" y1="341" x2="835" y2="318" stroke-width="6" marker-end="url(#i47)"/>
<line x1="637" y1="482" x2="835" y2="318" stroke-width="2" marker-end="url(#i47)"/>
</g>
<g id="inset-paper"><rect class="in" x="754" y="276" width="31" height="31"/><text class="it" x="770" y="300" font-size="17">paper</text></g>
<g id="inset-chalk"><rect class="in" x="807" y="210" width="24" height="24"/><text class="it" x="819" y="229" font-size="13">chalk</text></g>
<g id="inset-ghost"><rect class="in" x="874" y="170" width="34" height="34"/><text class="it" x="891" y="196" font-size="19">ghost</text></g>
<g id="inset-marble"><rect class="in" x="884" y="254" width="23" height="23"/><text class="it" x="896" y="272" font-size="12.5">marble</text></g>
<g id="inset-bone"><rect class="in" x="949" y="249" width="36" height="37"/><text class="it" x="967" y="278" font-size="20">bone</text></g>
<g id="inset-dust"><rect class="in" x="1098" y="164" width="34" height="33"/><text class="it" x="1115" y="189" font-size="18.5">dust</text></g>
<g id="inset-dry"><circle class="ia" cx="1058" cy="226" r="22"/><text class="it" x="1058" y="238" font-size="24">dry</text></g>
<g id="inset-white"><circle class="ia" cx="835" cy="318" r="47"/></g>
<g id="inset-snow"><rect class="in" x="852" y="349" width="57" height="57"/><text class="it" x="880" y="393" font-size="31">snow</text></g>
<g id="inset-sheet"><rect class="in" x="913" y="314" width="54" height="54"/><text class="it" x="941" y="355" font-size="29">sheet</text></g>
<text class="it" x="836" y="344" font-size="51">white</text>
</g>
<rect x="706" y="131" width="446" height="300" fill="none" stroke="#222" stroke-width="2"/>
</g>

<!-- title and key -->
<text x="838" y="80" font-family="'Open Sans','Liberation Sans',sans-serif" font-weight="300" font-style="italic" font-size="46" fill="#111" textLength="162" lengthAdjust="spacingAndGlyphs">A as NP</text>
<text class="lg" x="746" y="491" textLength="295" lengthAdjust="spacingAndGlyphs">Red circles = Adjectives</text>
<text class="lg" x="746" y="529" textLength="367" lengthAdjust="spacingAndGlyphs">Blue squares = Noun phrases</text>
<text class="lg" x="746" y="567" textLength="211" lengthAdjust="spacingAndGlyphs">Size = Frequency</text>
<text class="lg" x="746" y="605" textLength="350" lengthAdjust="spacingAndGlyphs">Direction = Pattern position</text>
<text x="1056" y="672" font-family="'Open Sans','Liberation Sans',sans-serif" font-size="16" fill="#9a9a9a">Desagulier</text>
</svg>
